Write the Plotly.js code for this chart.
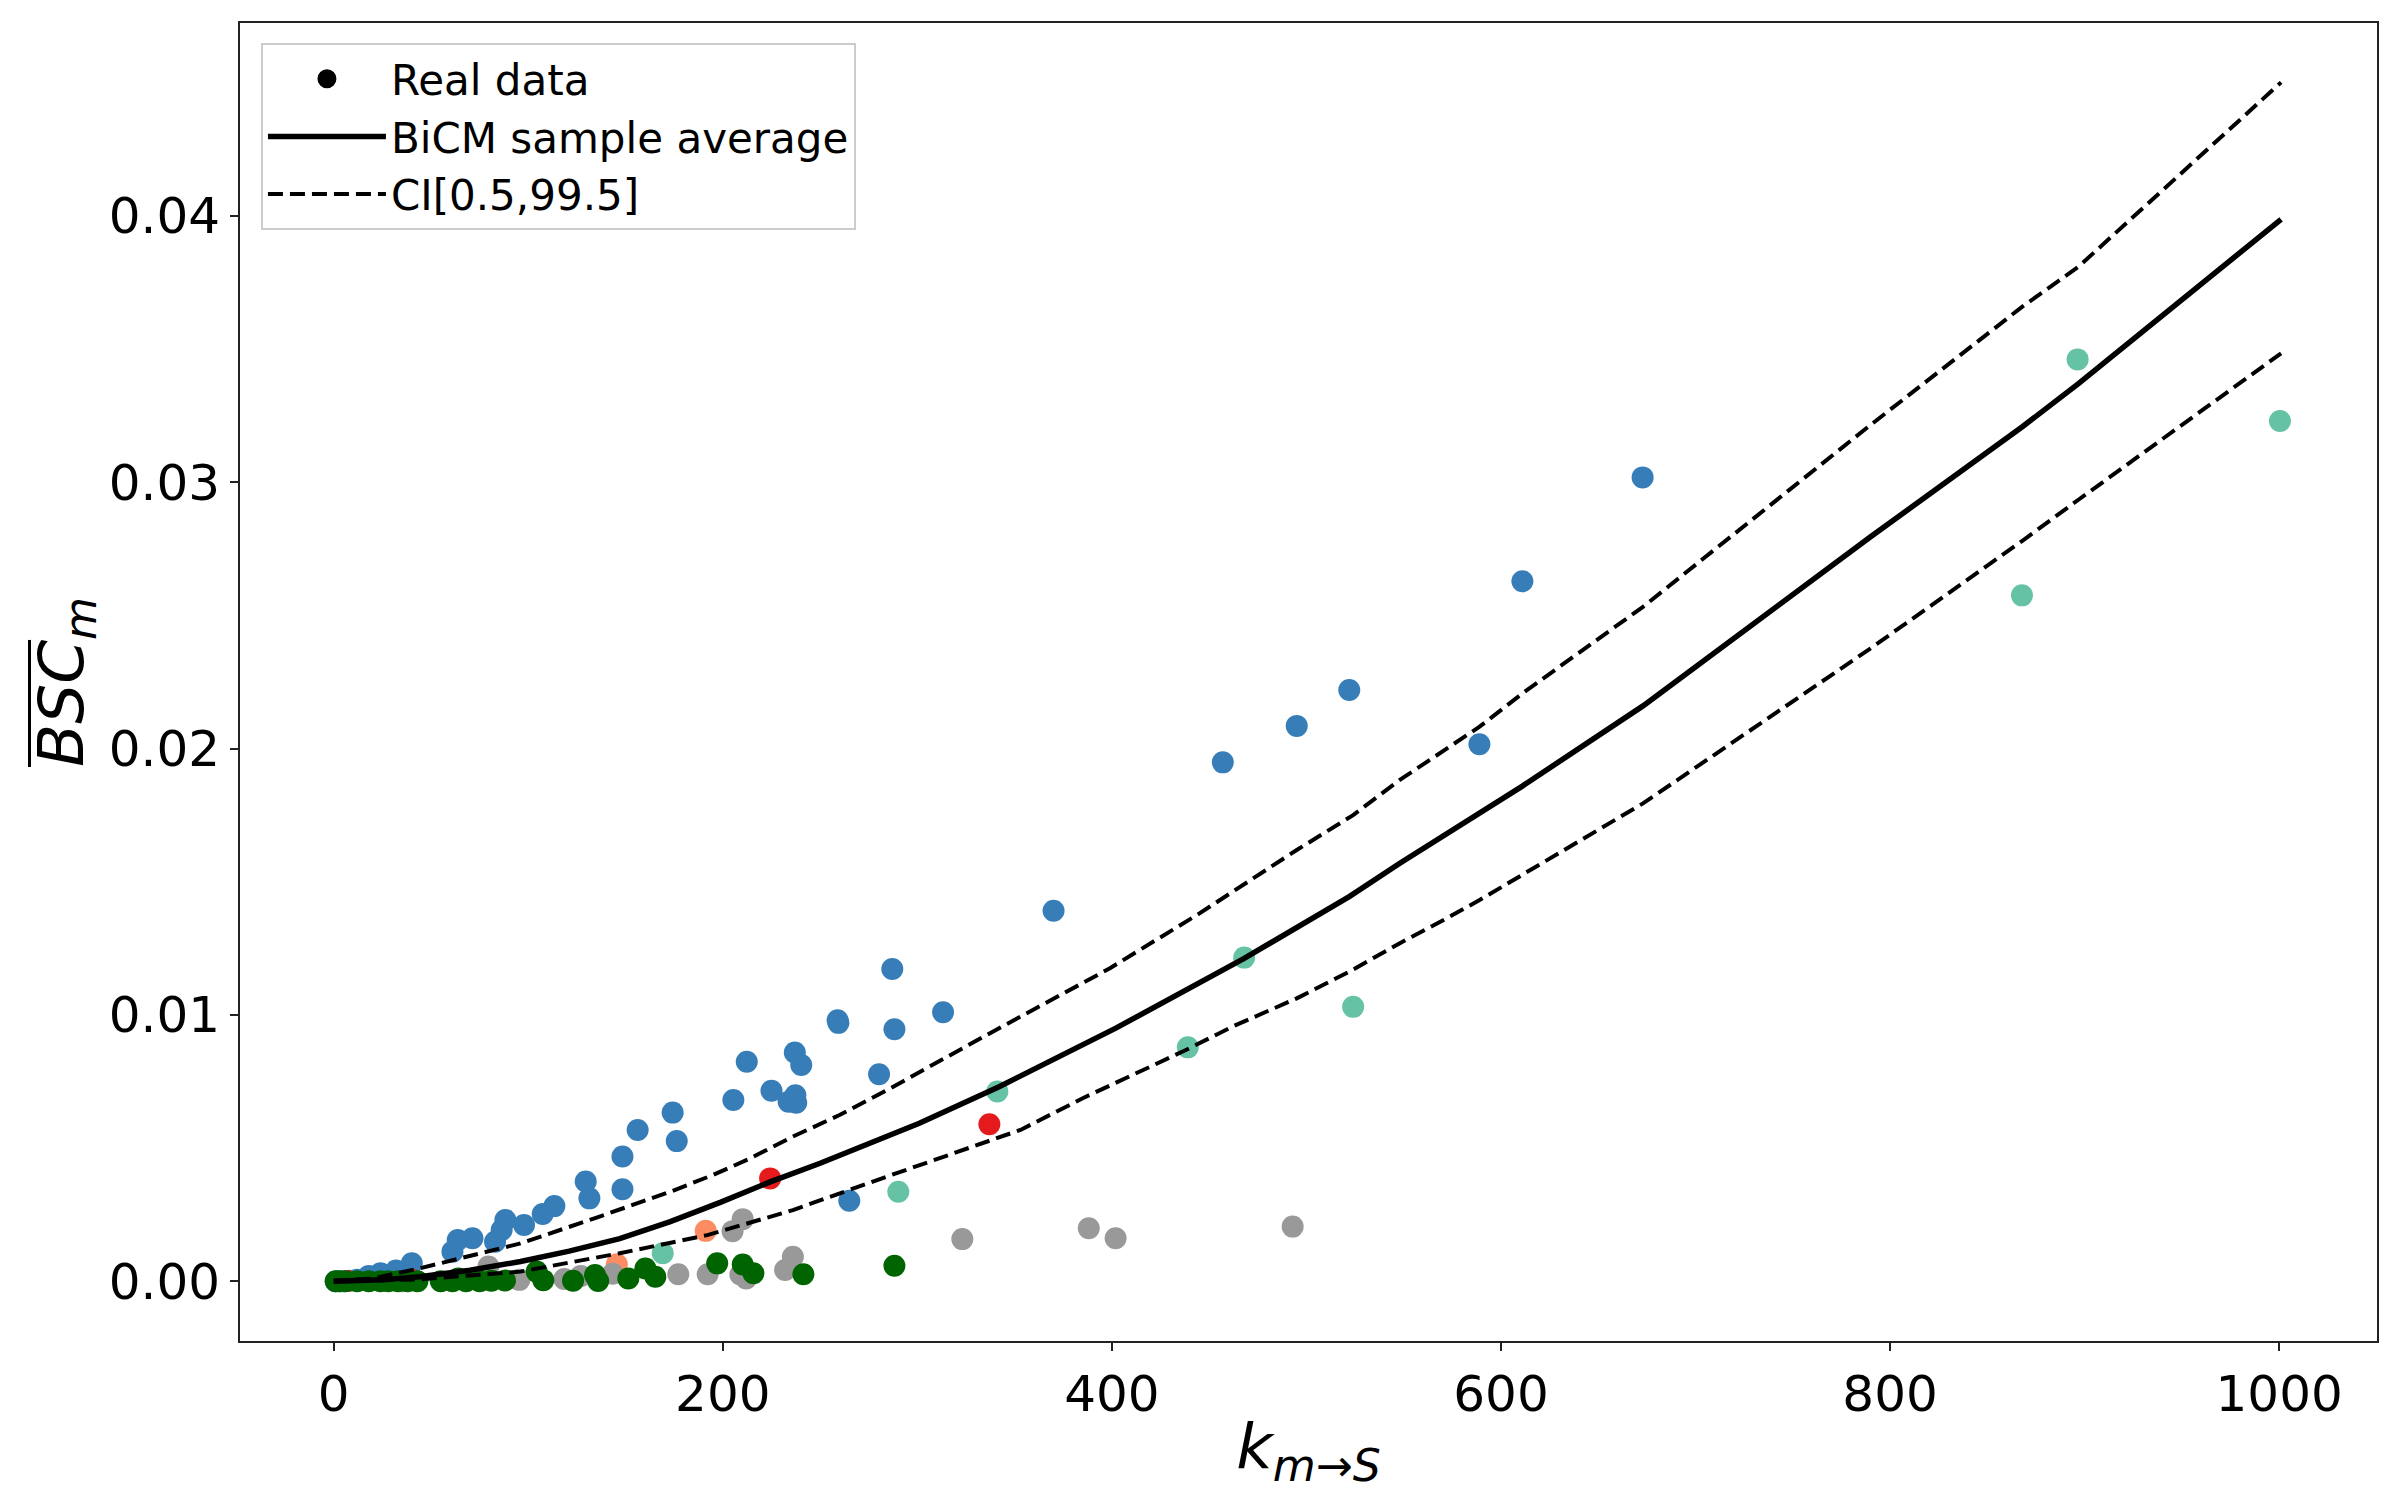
<!DOCTYPE html>
<html>
<head>
<meta charset="utf-8">
<script src="https://cdn.plot.ly/plotly-3.0.1.min.js"></script>
<style>html,body{margin:0;padding:0;background:#fff;}#chart{width:2400px;height:1500px;}</style>
</head>
<body>
<div id="chart"></div>
<script>
// ---- Real data, grouped by colour ----
const blueK = [1, 3, 5, 8, 12, 18, 24, 32, 40.1, 61, 63.7, 71.3, 82.9, 86.3, 88.2, 97.8, 107.4, 113.4, 129.5, 131.4, 148.4, 148.4, 156.2, 174.2, 176.3, 205.4, 212.3, 225, 233.8, 237.7, 237.3, 237, 240.3, 259.4, 259, 265, 280.3, 287.1, 288.2, 313.2, 370, 457, 495, 522, 588.9, 611, 672.8];
const blueV = [0, 0, 0, 0.00002, 0.00005, 0.0002, 0.0003, 0.0004, 0.00067, 0.00111, 0.00155, 0.00161, 0.00148, 0.00192, 0.0023, 0.00211, 0.00252, 0.00282, 0.00374, 0.00311, 0.00468, 0.00345, 0.00568, 0.00633, 0.00526, 0.0068, 0.00824, 0.00715, 0.00674, 0.0067, 0.00698, 0.00859, 0.00812, 0.0097, 0.0098, 0.00302, 0.00777, 0.01172, 0.00946, 0.0101, 0.01391, 0.01948, 0.02085, 0.0222, 0.02016, 0.02628, 0.03018];

const tealK = [169.1, 290.2, 341.1, 439, 468, 524, 867.8, 896.4, 1000.4];
const tealV = [0.00105, 0.00336, 0.00712, 0.00878, 0.01215, 0.0103, 0.02575, 0.03461, 0.0323];

const redK = [7, 40, 224.3, 337];
const redV = [0.00001, 0.00005, 0.00386, 0.00589];

const orangeK = [145.5, 191.2];
const orangeV = [0.00064, 0.00189];

const greyK = [35, 79.5, 95.4, 118.5, 127, 143.4, 177.1, 192.2, 205, 210.2, 209, 212, 214, 232, 236, 323.1, 388.1, 401.9, 492.9];
const greyV = [0, 0.00055, 0.00005, 0.00008, 0.0002, 0.00028, 0.00026, 0.00026, 0.00188, 0.00233, 0.00025, 0.0001, 0.0003, 0.00042, 0.00092, 0.00158, 0.00199, 0.00161, 0.00205];

const greenK = [1, 3, 6, 12, 18, 24, 28, 33, 38, 43, 55, 61, 64, 68, 75, 81, 88, 104.3, 107.7, 123, 134.3, 135.9, 151.4, 160.2, 165.3, 197.1, 210.2, 215.7, 241.4, 288.2];
const greenV = [0, 0, 0, 0, 0, 0, 0, 0, 0, 0, 0, 0, 0.0001, 0, 0, 0.00002, 0.00003, 0.00036, 0.00004, 0.00002, 0.00023, 0.00001, 0.0001, 0.00048, 0.00017, 0.00067, 0.00063, 0.0003, 0.00026, 0.00058];

// ---- BiCM sample average ----
const meanK = [0, 10, 25, 44, 70, 96, 121, 147, 173, 199, 224, 250, 301, 342, 402, 468, 522, 548, 588, 611, 673, 790, 868, 897, 1001];
const meanV = [0, 0.00001, 0.00005, 0.00017, 0.00041, 0.00074, 0.00113, 0.0016, 0.00224, 0.00297, 0.00372, 0.00443, 0.00593, 0.0073, 0.0095, 0.01212, 0.01444, 0.01569, 0.01753, 0.01859, 0.0216, 0.02795, 0.03208, 0.03371, 0.03987];

// ---- CI[0.5,99.5] ----
const upK = [0, 20, 44, 96, 134, 173, 195, 214, 236, 260, 286, 342, 399, 445, 495, 524, 548, 589, 611, 673, 790, 868, 897, 1001];
const upV = [0.00002, 0.0001, 0.00048, 0.00142, 0.00236, 0.00336, 0.00399, 0.00461, 0.00543, 0.00624, 0.00724, 0.0095, 0.01175, 0.01381, 0.01619, 0.0175, 0.01882, 0.02082, 0.02207, 0.02532, 0.03215, 0.03659, 0.0381, 0.04501];
const loK = [0, 44, 96, 147, 192, 236, 284, 341, 353, 385, 438, 462, 495, 522, 548, 572, 589, 673, 790, 868, 897, 1001];
const loV = [0, 0.00007, 0.00036, 0.00105, 0.00173, 0.00267, 0.00392, 0.00536, 0.00568, 0.00687, 0.00868, 0.00956, 0.01062, 0.01162, 0.01269, 0.01362, 0.01431, 0.01794, 0.02376, 0.0278, 0.02935, 0.03484];

const legendNames = ['Real data', 'BiCM sample average', 'CI[0.5,99.5]'];

const FONT = 'DejaVu Sans';
const MS = 22;
function pts(k, v, color) {
  return {type: 'scatter', mode: 'markers', x: k, y: v, showlegend: false, hoverinfo: 'skip',
          marker: {size: MS, color: color, line: {width: 0}}};
}

const traces = [
  pts(blueK, blueV, '#377eb8'),
  pts(tealK, tealV, '#66c2a5'),
  pts(redK, redV, '#e41a1c'),
  pts(orangeK, orangeV, '#fc8d62'),
  pts(greyK, greyV, '#999999'),
  pts(greenK, greenV, '#006400'),
  {type: 'scatter', mode: 'markers', x: [null], y: [null], name: legendNames[0],
   marker: {size: MS, color: '#000000', line: {color: '#000000', width: 3}}},
  {type: 'scatter', mode: 'lines', x: meanK, y: meanV, name: legendNames[1],
   line: {color: '#000000', width: 5.5}},
  {type: 'scatter', mode: 'lines', x: upK, y: upV, name: legendNames[2],
   line: {color: '#000000', width: 4, dash: '15px,7px'}},
  {type: 'scatter', mode: 'lines', x: loK, y: loV, showlegend: false,
   line: {color: '#000000', width: 4, dash: '15px,7px'}}
];

const layout = {
  width: 2400, height: 1500,
  margin: {l: 240, r: 23, t: 23, b: 159, pad: 0},
  paper_bgcolor: '#ffffff', plot_bgcolor: '#ffffff',
  font: {family: FONT, color: '#000000'},
  showlegend: true,
  xaxis: {
    range: [-48.2, 1050.3], tickvals: [0, 200, 400, 600, 800, 1000],
    showgrid: false, zeroline: false,
    showline: true, mirror: true, linecolor: '#222222', linewidth: 2,
    ticks: 'outside', ticklen: 8, tickwidth: 2, tickcolor: '#222222',
    tickfont: {family: FONT, size: 50, color: '#000000'},
    title: {text: '<i>k</i><sub><i>m</i>→<i>S</i></sub>', font: {family: FONT, size: 63, color: '#000000'}, standoff: 2}
  },
  yaxis: {
    range: [-0.002245, 0.04724], tickvals: [0, 0.01, 0.02, 0.03, 0.04], tickformat: '.2f',
    showgrid: false, zeroline: false,
    showline: true, mirror: true, linecolor: '#222222', linewidth: 2,
    ticks: 'outside', ticklen: 8, tickwidth: 2, tickcolor: '#222222',
    tickfont: {family: FONT, size: 50, color: '#000000'},
    title: {text: '<i>BSC</i><sub><i>m</i></sub>', font: {family: FONT, size: 63, color: '#000000'}, standoff: 5}
  },
  shapes: [
    // overline of the y-axis title (mathtext \overline{BSC})
    {type: 'line', xref: 'paper', yref: 'paper', x0: -0.0985, x1: -0.0985, y0: 0.4355, y1: 0.5319,
     line: {color: '#000000', width: 3}}
  ],
  legend: {
    x: 0.0098, y: 0.9848, xanchor: 'left', yanchor: 'top',
    bgcolor: 'rgba(255,255,255,0.8)', bordercolor: '#cccccc', borderwidth: 2,
    font: {family: FONT, size: 42, color: '#000000'},
    itemwidth: 118
  }
};

Plotly.newPlot('chart', traces, layout, {staticPlot: true, displayModeBar: false});
</script>
</body>
</html>
